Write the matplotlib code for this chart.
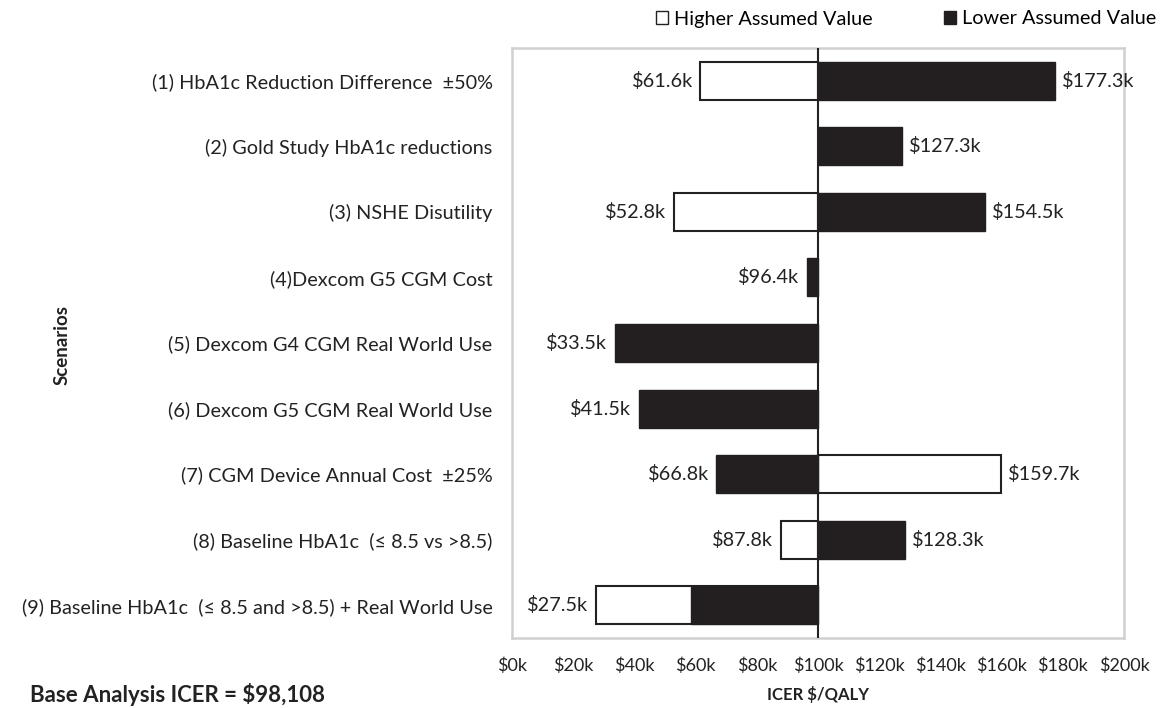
import matplotlib
matplotlib.use("Agg")
import matplotlib.pyplot as plt
from matplotlib.patches import Patch

plt.rcParams['font.family'] = ['Lato', 'DejaVu Sans']

# scenarios, top to bottom
scenarios = [
    "(1) HbA1c Reduction Difference  \u00b150%",
    "(2) Gold Study HbA1c reductions",
    "(3) NSHE Disutility",
    "(4)Dexcom G5 CGM Cost",
    "(5) Dexcom G4 CGM Real World Use",
    "(6) Dexcom G5 CGM Real World Use",
    "(7) CGM Device Annual Cost  \u00b125%",
    "(8) Baseline HbA1c  (\u2264 8.5 vs >8.5)",
    "(9) Baseline HbA1c  (\u2264 8.5 and >8.5) + Real World Use",
]
# ICER in $k
higher_val = [61.6, None, 52.8, None, None, None, 159.7, 87.8, 27.5]
lower_val = [177.3, 127.3, 154.5, 96.4, 33.5, 41.5, 66.8, 128.3, 58.5]
lower_show = [True, True, True, True, True, True, True, True, False]
base = 100
xticks = [0, 20, 40, 60, 80, 100, 120, 140, 160, 180, 200]

txt = '#222222'
fs = 14.3
fig = plt.figure(figsize=(11.6, 7.08), dpi=100)
ax = fig.add_axes([512 / 1160, 1 - 638 / 708, 612 / 1160, 590 / 708])

ypos = list(range(len(scenarios)))
h = 0.58

def put_label(v, y):
    if v < base:
        ax.text(v - 2.5, y, f"${v:.1f}k", ha='right', va='center', fontsize=fs, color=txt)
    else:
        ax.text(v + 2.5, y, f"${v:.1f}k", ha='left', va='center', fontsize=fs, color=txt)

# white bars first, black drawn over them
for y, v in zip(ypos, higher_val):
    if v is None:
        continue
    ax.barh(y, v - base, left=base, height=h, color='white', edgecolor='#222222', linewidth=1.5, zorder=2)
    put_label(v, y)

for y, v, show in zip(ypos, lower_val, lower_show):
    ax.barh(y, v - base, left=base, height=h, color='#231f20', edgecolor='#231f20', linewidth=1.0, zorder=3)
    if show:
        put_label(v, y)

ax.axvline(base, color='#222222', linewidth=1.5, zorder=4)

ax.set_xlim(0, 200)
ax.set_ylim(len(scenarios) - 0.5, -0.5)
ax.set_xticks(xticks)
ax.set_xticklabels([f"${t}k" for t in xticks], fontsize=13, color=txt)
ax.set_yticks(ypos)
ax.set_yticklabels(scenarios, fontsize=fs, color=txt)
ax.tick_params(axis='both', length=0)
ax.tick_params(axis='y', pad=14)
ax.tick_params(axis='x', pad=14)
for s in ax.spines.values():
    s.set_color('#d0d0d0')
    s.set_linewidth(1.8)

ax.set_xlabel("ICER $/QALY", fontsize=12, fontweight='bold', color=txt, labelpad=9)
fig.text(62 / 1160, 1 - 345 / 708, "Scenarios", rotation=90, ha='center', va='center',
         fontsize=13.5, fontweight='bold', color=txt)
fig.text(30 / 1160, 1 - 694 / 708, "Base Analysis ICER = $98,108", ha='left', va='center',
         fontsize=16, fontweight='bold', color=txt)

handles = [Patch(facecolor='white', edgecolor='#222222', label='Higher Assumed Value'),
           Patch(facecolor='#231f20', edgecolor='#231f20', label='Lower Assumed Value')]
fig.legend(handles=handles, loc='center right', bbox_to_anchor=(1156 / 1160, 1 - 19 / 708),
           ncol=2, frameon=False, fontsize=fs, handlelength=0.6, handleheight=0.6,
           handletextpad=0.3, columnspacing=3.6, borderaxespad=0, borderpad=0)

fig.savefig("out.png", dpi=100)
